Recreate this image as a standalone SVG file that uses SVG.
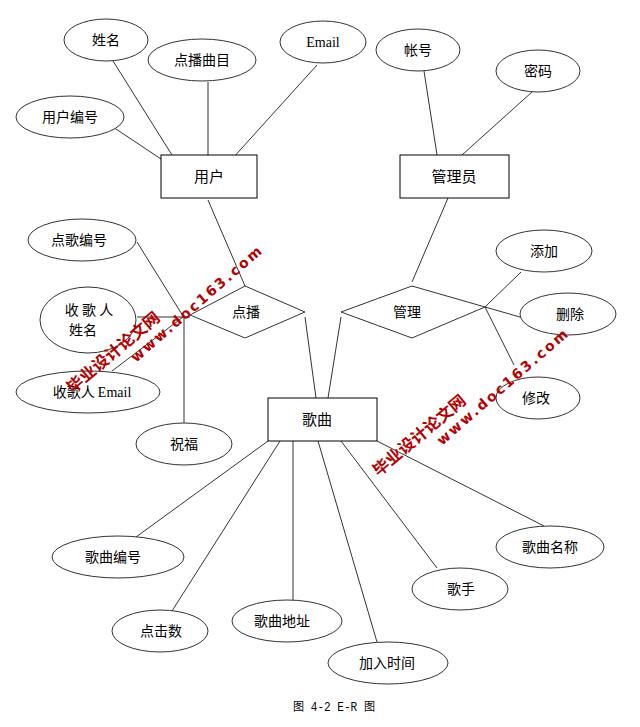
<svg xmlns="http://www.w3.org/2000/svg" width="640" height="727" viewBox="0 0 640 727">
<style>
.e{fill:#fff;stroke:#333;stroke-width:1}
.r{fill:#fff;stroke:#000;stroke-width:1}
.t{font-family:"Noto Sans CJK SC",sans-serif;font-size:14px;fill:#000;text-anchor:middle}
.big{font-size:15px}
.s{font-family:"Liberation Serif","Noto Sans CJK SC",serif;font-size:14px}
.cap{font-family:"Liberation Mono","Noto Sans CJK SC",monospace;font-size:12px;fill:#000;text-anchor:middle}
#connectors line{stroke:#333;stroke-width:1}
.wm{font-family:"DejaVu Sans","Noto Sans CJK SC",sans-serif;font-weight:bold;fill:#b40000;text-anchor:middle}
</style>
<rect width="640" height="727" fill="#fff"/>
<g id="connectors">
<line x1="113" y1="61" x2="172" y2="155"/>
<line x1="208" y1="82" x2="208" y2="155"/>
<line x1="113" y1="127" x2="161" y2="159"/>
<line x1="317" y1="65" x2="232" y2="159"/>
<line x1="208" y1="200" x2="245" y2="286"/>
<line x1="424" y1="71" x2="437" y2="155"/>
<line x1="532" y1="92" x2="462" y2="155"/>
<line x1="448" y1="198" x2="412" y2="282"/>
<line x1="341" y1="317" x2="328" y2="398"/>
<line x1="485" y1="307" x2="521" y2="272"/>
<line x1="485" y1="307" x2="520" y2="317"/>
<line x1="485" y1="307" x2="514" y2="365"/>
<line x1="137" y1="242" x2="183" y2="316"/>
<line x1="137" y1="317" x2="190" y2="317"/>
<line x1="184" y1="317" x2="184" y2="423"/>
<line x1="112" y1="371" x2="183" y2="317"/>
<line x1="305" y1="317" x2="316" y2="398"/>
<line x1="268" y1="441" x2="136" y2="537"/>
<line x1="280" y1="441" x2="172" y2="611"/>
<line x1="293" y1="441" x2="293" y2="600"/>
<line x1="318" y1="441" x2="377" y2="642"/>
<line x1="341" y1="441" x2="437" y2="568"/>
<line x1="377" y1="441" x2="544" y2="526"/>
</g>
<g id="user"><rect class="r" x="161" y="155" width="96" height="43"/><text class="t big" x="209" y="182">用户</text></g>
<g id="admin"><rect class="r" x="400" y="155" width="109" height="43"/><text class="t big" x="454" y="182">管理员</text></g>
<g id="song"><rect class="r" x="268" y="398" width="109" height="43"/><text class="t big" x="317" y="425">歌曲</text></g>
<g id="dianbo"><polygon class="e" points="245,286 305,312 245,338 190,315"/><text class="t" x="246" y="317">点播</text></g>
<g id="guanli"><polygon class="e" points="412,286 485,307 412,338 341,312"/><text class="t" x="407" y="317">管理</text></g>
<g id="a-name"><ellipse class="e" cx="106" cy="40" rx="42" ry="21"/><text class="t" x="106" y="45">姓名</text></g>
<g id="a-qumu"><ellipse class="e" cx="202" cy="60" rx="54" ry="21"/><text class="t" x="202" y="65">点播曲目</text></g>
<g id="a-uid"><ellipse class="e" cx="70" cy="117" rx="54" ry="21"/><text class="t" x="70" y="122">用户编号</text></g>
<g id="a-email"><ellipse class="e" cx="323" cy="42" rx="43" ry="21"/><text class="t s" x="323" y="47">Email</text></g>
<g id="a-account"><ellipse class="e" cx="418" cy="50" rx="42" ry="21"/><text class="t" x="418" y="55">帐号</text></g>
<g id="a-pwd"><ellipse class="e" cx="538" cy="71" rx="42" ry="21"/><text class="t" x="538" y="76">密码</text></g>
<g id="a-add"><ellipse class="e" cx="544" cy="251" rx="48" ry="21"/><text class="t" x="544" y="256">添加</text></g>
<g id="a-del"><ellipse class="e" cx="568" cy="314" rx="48" ry="21"/><text class="t" x="570" y="319">删除</text></g>
<g id="a-mod"><ellipse class="e" cx="538" cy="398" rx="42" ry="21"/><text class="t" x="536" y="403">修改</text></g>
<g id="a-dgid"><ellipse class="e" cx="82" cy="240" rx="54" ry="21"/><text class="t" x="79" y="245">点歌编号</text></g>
<g id="a-rname"><ellipse class="e" cx="88" cy="320" rx="48" ry="33"/><text class="t" x="89" y="315">收 歌 人</text><text class="t" x="83" y="335">姓名</text></g>
<g id="a-remail"><ellipse class="e" cx="88" cy="392" rx="72" ry="21"/><text class="t" x="92" y="397">收歌人 <tspan class="s">Email</tspan></text></g>
<g id="a-bless"><ellipse class="e" cx="184" cy="444" rx="48" ry="21"/><text class="t" x="184" y="449">祝福</text></g>
<g id="a-sid"><ellipse class="e" cx="118" cy="557" rx="66" ry="21"/><text class="t" x="113" y="562">歌曲编号</text></g>
<g id="a-clicks"><ellipse class="e" cx="160" cy="631" rx="48" ry="21"/><text class="t" x="161" y="636">点击数</text></g>
<g id="a-url"><ellipse class="e" cx="287" cy="621" rx="55" ry="21"/><text class="t" x="282" y="626">歌曲地址</text></g>
<g id="a-time"><ellipse class="e" cx="388" cy="663" rx="60" ry="21"/><text class="t" x="387" y="668">加入时间</text></g>
<g id="a-singer"><ellipse class="e" cx="460" cy="589" rx="48" ry="21"/><text class="t" x="461" y="594">歌手</text></g>
<g id="a-sname"><ellipse class="e" cx="550" cy="547" rx="54" ry="21"/><text class="t" x="550" y="552">歌曲名称</text></g>
<text class="cap" x="334" y="711" textLength="82" lengthAdjust="spacingAndGlyphs">图 4-2 E-R 图</text>
<g id="watermark1">
<text class="wm" x="113" y="358" font-size="16" transform="rotate(-40 113 352)" textLength="116" lengthAdjust="spacingAndGlyphs">毕业设计论文网</text>
<text class="wm" x="196" y="309" font-size="14" transform="rotate(-41 196 304)" textLength="168" lengthAdjust="spacing">www.doc163.com</text>
</g>
<g id="watermark2">
<text class="wm" x="419" y="441" font-size="16" transform="rotate(-40 419 435)" textLength="116" lengthAdjust="spacingAndGlyphs">毕业设计论文网</text>
<text class="wm" x="502" y="392" font-size="14" transform="rotate(-41 502 387)" textLength="168" lengthAdjust="spacing">www.doc163.com</text>
</g>
</svg>
